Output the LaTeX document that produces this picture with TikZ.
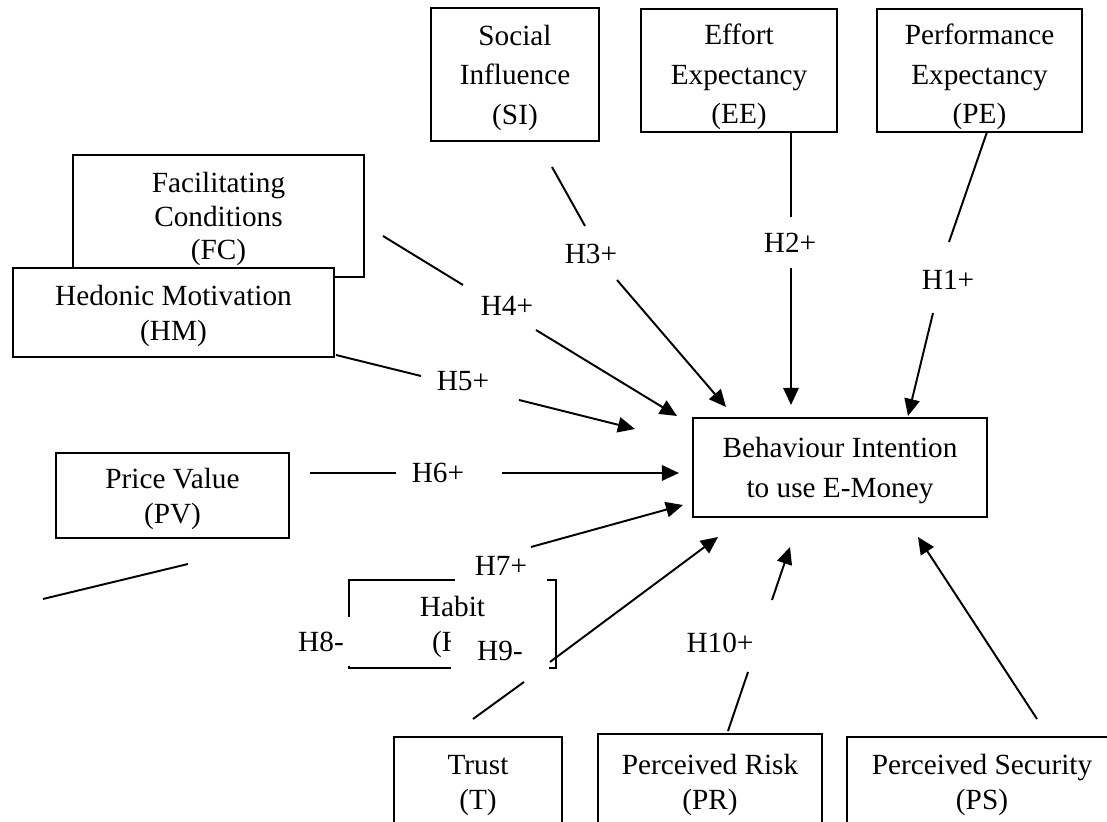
\documentclass[tikz,border=0pt]{standalone}
\usepackage{fontspec}
\setmainfont{Liberation Serif}
\usetikzlibrary{arrows.meta}
\newlength\pxu
\setlength\pxu{0.41pt}
\newcommand\topstrut{\rule{0pt}{11.1pt}}
\tikzset{
  box/.style={draw, fill=white, line width=0.75pt, inner sep=0pt, align=center,
    text depth=-0.6pt, font=\fontsize{12}{14.4}\selectfont},
  tall/.style={font=\fontsize{12}{16.2}\selectfont},
  link/.style={line width=0.8pt},
  arr/.style={link, -{Triangle[length=7pt,width=6.3pt]}},
  hyp/.style={fill=white, inner sep=1pt, font=\fontsize{12}{14}\selectfont},
}

\begin{document}
\begin{tikzpicture}[x=\pxu, y=-\pxu]
  \useasboundingbox (0,0) rectangle (1107,822);
  \clip (0,0) rectangle (1107,822);

  % constructs
  \node[box, tall, minimum width=168\pxu, minimum height=133\pxu] (si) at (515,74.5) {Social\\Influence\\(SI)};
  \node[box, tall, minimum width=196\pxu, minimum height=123\pxu] (ee) at (739,70.5) {\topstrut Effort\\Expectancy\\(EE)};
  \node[box, tall, minimum width=205\pxu, minimum height=123\pxu] (pe) at (979.5,70.5) {\topstrut Performance\\Expectancy\\(PE)};
  \node[box, font=\fontsize{12}{13.6}\selectfont, minimum width=291\pxu, minimum height=122\pxu] (fc) at (218.5,216) {Facilitating\\Conditions\\(FC)};
  \node[box, minimum width=321\pxu, minimum height=89\pxu] (hm) at (173.5,312.5) {Hedonic Motivation\\(HM)};
  \node[box, minimum width=233\pxu, minimum height=85\pxu] (pv) at (172.5,495.5) {Price Value\\(PV)};
  \node[box, minimum width=207\pxu, minimum height=88\pxu] (ha) at (452.5,624) {Habit\\(H)};
  \node[box, tall, minimum width=294\pxu, minimum height=99\pxu] (bi) at (840,467.5) {Behaviour Intention\\to use E-Money};
  \node[box, minimum width=168\pxu, minimum height=90\pxu] (tr) at (478,782) {Trust\\(T)};
  \node[box, minimum width=224\pxu, minimum height=96\pxu] (pr) at (710,782) {Perceived Risk\\(PR)};
  \node[box, minimum width=270\pxu, minimum height=90\pxu] (ps) at (982,782) {Perceived Security\\(PS)};

  % path ends
  \coordinate (h1a) at (987,132);  \coordinate (h1b) at (949,242);
  \coordinate (h1c) at (933,313);  \coordinate (h1d) at (908,416);
  \coordinate (h2a) at (791,132);  \coordinate (h2b) at (791,217);
  \coordinate (h2c) at (791,268);  \coordinate (h2d) at (791,405);
  \coordinate (h3a) at (552,167);  \coordinate (h3b) at (585,226);
  \coordinate (h3c) at (617,280);  \coordinate (h3d) at (726,407);
  \coordinate (h4a) at (383,236);  \coordinate (h4b) at (463,285);
  \coordinate (h4c) at (536,330);  \coordinate (h4d) at (677,416);
  \coordinate (h5a) at (336,355);  \coordinate (h5b) at (421,376);
  \coordinate (h5c) at (519,400);  \coordinate (h5d) at (635,429);
  \coordinate (h6a) at (310,473);  \coordinate (h6b) at (396,473);
  \coordinate (h6c) at (502,473);  \coordinate (h6d) at (679,473);
  \coordinate (h7c) at (531,547);  \coordinate (h7d) at (683,505);
  \coordinate (h8a) at (43,599);   \coordinate (h8b) at (188,564);
  \coordinate (h9a) at (473,719);  \coordinate (h9b) at (524,682);
  \coordinate (h9c) at (550,662);  \coordinate (h9d) at (718,537);
  \coordinate (h10a) at (728,731); \coordinate (h10b) at (748,672);
  \coordinate (h10c) at (772,600); \coordinate (h10d) at (790,547);
  \coordinate (psa) at (1037,719); \coordinate (psd) at (918,537);

  \foreach \n in {h1,h2,h3,h4,h5,h6,h9,h10}{
    \draw[link] (\n a) -- (\n b);
    \draw[arr] (\n c) -- (\n d);
  }
  \draw[arr] (h7c) -- (h7d);
  \draw[link] (h8a) -- (h8b);
  \draw[arr] (psa) -- (psd);

  % hypothesis labels
  \foreach \n/\t/\x/\y in {l1/H1+/948/280, l2/H2+/790/243, l3/H3+/591/254, l4/H4+/507/306,
      l5/H5+/463/381, l6/H6+/438/473, l10/H10+/720/643}{
    \node[hyp] (\n) at (\x,\y) {\t};
  }
  \node[hyp, minimum width=92\pxu, minimum height=36\pxu] (l7) at (501,566) {H7+};
  \node[hyp, minimum width=62\pxu, minimum height=49\pxu] (l8) at (321,641.5) {H8-};
  \node[hyp, minimum width=98\pxu, minimum height=58\pxu] (l9) at (500,651) {H9-};
\end{tikzpicture}
\end{document}
